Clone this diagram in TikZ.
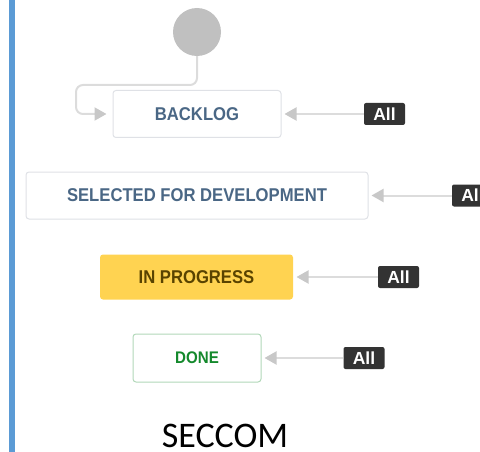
\documentclass[tikz,border=0pt]{standalone}
\usepackage{fontspec}
\newfontfamily\labfont{Liberation Sans}[FakeStretch=0.9]
\newfontfamily\badgefont{Liberation Sans}
\newfontfamily\calfont{Carlito}
\usetikzlibrary{arrows.meta}
\definecolor{barblue}{HTML}{5B9BD5}
\definecolor{startgray}{HTML}{C0C0C0}
\definecolor{boxborder}{HTML}{DFE1E6}
\definecolor{todotext}{HTML}{4A6785}
\definecolor{progfill}{HTML}{FFD351}
\definecolor{progtext}{HTML}{594300}
\definecolor{doneborder}{HTML}{B2D8B9}
\definecolor{donetext}{HTML}{14892C}
\definecolor{linegray}{HTML}{DCDCDC}
\definecolor{tipgray}{HTML}{C8C8C8}
\definecolor{badgedark}{HTML}{333333}
\tikzset{
  statebox/.style={rectangle, rounded corners=3pt, line width=1pt, inner sep=0pt,
    font=\labfont\bfseries\fontsize{18.5}{20}\selectfont},
  todobox/.style={statebox, draw=boxborder, fill=white, text=todotext},
  allbadge/.style={rectangle, rounded corners=2pt, fill=badgedark, text=white, inner sep=0pt,
    minimum width=41pt, minimum height=22pt, font=\badgefont\bfseries\fontsize{17.5}{18}\selectfont},
  conn/.style={draw=linegray, line width=2pt,
    -{Triangle[length=12pt,width=13pt,color=tipgray]}, shorten >=3pt},
}
\begin{document}
\begin{tikzpicture}[x=1pt,y=-1pt]
\useasboundingbox (0,0) rectangle (480,452);
\fill[barblue] (9,0) rectangle (15,452);
\node[circle, fill=startgray, inner sep=0pt, minimum size=48pt] (start) at (197,32) {};
\node[todobox, minimum width=168pt, minimum height=47pt] (backlog) at (197,114) {BACKLOG};
\node[todobox, minimum width=342pt, minimum height=47pt] (selected) at (197,195.5) {SELECTED FOR DEVELOPMENT};
\node[statebox, fill=progfill, text=progtext, minimum width=193pt, minimum height=45pt] (progress) at (196.5,277) {IN PROGRESS};
\node[statebox, draw=doneborder, fill=white, text=donetext, minimum width=128pt, minimum height=48pt,
  font=\labfont\bfseries\fontsize{16.8}{18}\selectfont] (done) at (197,358) {DONE};
\node[allbadge] (all1) at (384.5,114) {All};
\node[allbadge] (all2) at (472.5,195.5) {All};
\node[allbadge] (all3) at (398.5,277) {All};
\node[allbadge] (all4) at (364,358) {All};
\coordinate (c1) at (76,85);
\draw[conn, shorten >=6pt, rounded corners=7pt] (start.south) |- (c1) |- (backlog.west);
\draw[conn] (all1.west) -- (backlog.east);
\draw[conn] (all2.west) -- (selected.east);
\draw[conn] (all3.west) -- (progress.east);
\draw[conn] (all4.west) -- (done.east);
\node[font=\calfont\fontsize{36}{40}\selectfont, text=black, inner sep=0pt, anchor=base] (title) at (225,447.5) {SECCOM};
\end{tikzpicture}
\end{document}
